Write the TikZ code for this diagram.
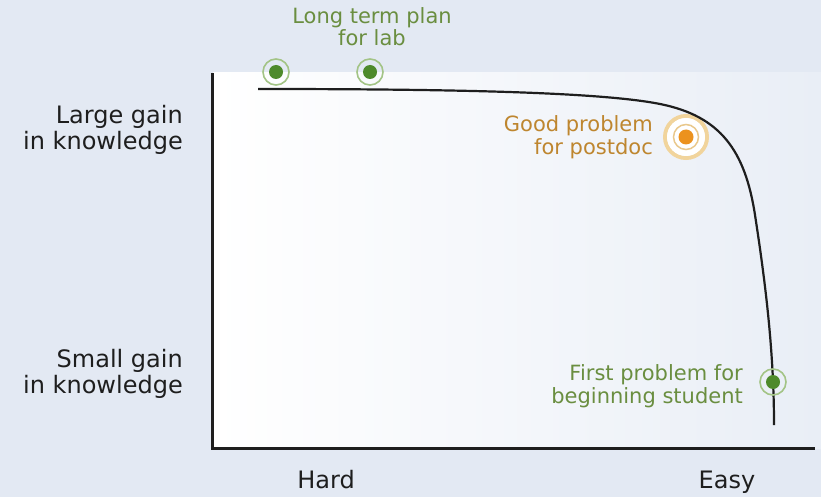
\documentclass[tikz,border=0pt]{standalone}
\usepackage{fontspec}
\setmainfont{DejaVu Sans}
\usepackage{tikz}
\usetikzlibrary{positioning}
\definecolor{pagebg}{HTML}{E3E9F3}
\definecolor{plotbg}{HTML}{E9EEF6}
\definecolor{labgreen}{HTML}{6A8E40}
\definecolor{dotgreen}{HTML}{4E8A2C}
\definecolor{ringgreen}{HTML}{A3C486}
\definecolor{labbrown}{HTML}{BE862F}
\definecolor{dotorange}{HTML}{EC921E}
\definecolor{ringtan}{HTML}{F1D49C}
\definecolor{axisgray}{HTML}{1E1E1E}
\tikzset{%
	axislabel/.style = {text=axisgray, align=right, anchor=base east, font=\fontsize{24}{26}\selectfont, inner sep=0pt},
	ticklabel/.style = {text=axisgray, anchor=base, font=\fontsize{24}{26}\selectfont, inner sep=0pt},
	greenlabel/.style= {text=labgreen, inner sep=0pt, font=\fontsize{21}{22.5}\selectfont},
	brownlabel/.style= {text=labbrown, inner sep=0pt, font=\fontsize{21}{23}\selectfont},
	greendot/.style  = {circle, fill=dotgreen, minimum size=14pt, inner sep=0pt},
	orangedot/.style = {circle, fill=dotorange, minimum size=15pt, inner sep=0pt},
	greenring/.style = {draw=ringgreen, line width=1.6pt},
	axisline/.style  = {axisgray, line width=3pt},
}
\begin{document}
\begin{tikzpicture}[x=1pt,y=-1pt]
	% background and plot area
	\fill[pagebg] (0,0) rectangle (821,497);
	\useasboundingbox (0,0) rectangle (821,497);
	\shade[left color=white, right color=plotbg] (213,73) rectangle (821,448);
	% axes
	\draw[axisline] (212,73) -- (212,448) -- (815,448);
	\node[axislabel] (large) at (183,150) {Large gain\\in knowledge};
	\node[axislabel] (small) at (183,393) {Small gain\\in knowledge};
	\node[ticklabel] (hard) at (326,488) {Hard};
	\node[ticklabel] (easy) at (727,488) {Easy};
	% postdoc problem
	\draw[ringtan, line width=4pt] (686,137) circle (21pt);
	\fill[white] (686,137) circle (19pt);
	\draw[ringtan!85!labbrown, line width=1.5pt] (686,137) circle (12.5pt);
	\node[orangedot] (postdoc) at (686,137) {};
	\node[brownlabel, align=right, anchor=base east] (postdoctxt) at (653,155) {Good problem\\for postdoc};
	% curve
	\coordinate (start) at (258,89);
	\coordinate (knee) at (660,104);
	\coordinate (drop) at (755,215);
	\coordinate (stop) at (774,425);
	\draw[axisgray, line width=2.2pt] (start) .. controls (450,89) and (600,92) .. (knee)
		.. controls (720,116) and (745,150) .. (drop)
		.. controls (765,280) and (774,350) .. (stop);
	% green problems
	\foreach \name/\px/\py in {lab/276/72, labb/370/72, student/773/382}{
		\draw[greenring] (\px,\py) circle (13pt);
		\node[greendot] (\name) at (\px,\py) {};
	}
	\node[greenlabel, align=center, anchor=base] (labtxt) at (372,46) {Long term plan\\for lab};
	\node[greenlabel, align=right, anchor=base east] (studenttxt) at (743,403) {First problem for\\beginning student};
\end{tikzpicture}
\end{document}
